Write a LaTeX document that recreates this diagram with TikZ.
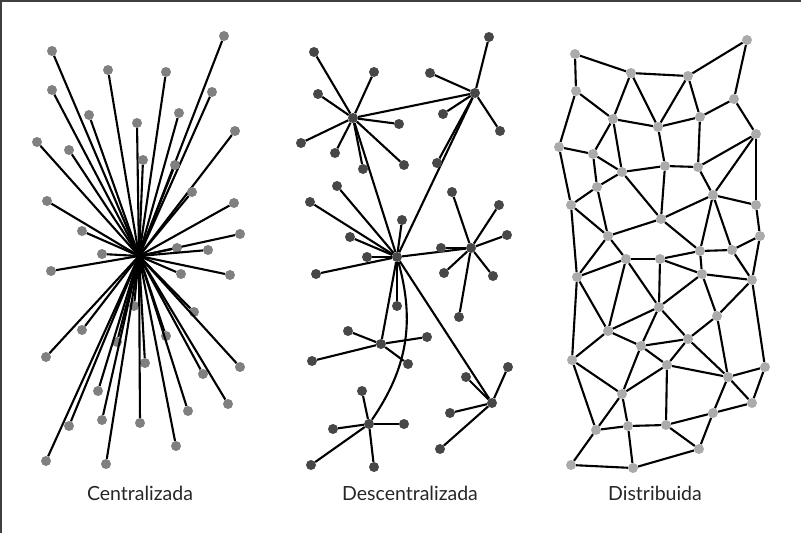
\documentclass[tikz,border=0pt]{standalone}
\usepackage{fontspec}
\setmainfont{Lato}
\begin{document}
\begin{tikzpicture}[x=1pt,y=-1pt,
  edge/.style={line width=2.1pt, black},
  cnode/.style={circle, fill=black!50, minimum size=10pt, inner sep=0pt},
  dnode/.style={circle, fill=black!72, minimum size=10pt, inner sep=0pt},
  snode/.style={circle, fill=black!33, minimum size=10pt, inner sep=0pt},
  lab/.style={font=\fontsize{19.5}{22}\selectfont, text=black!85, inner sep=0pt},
  frameline/.style={line width=2pt, black!75}]
\useasboundingbox (0,0) rectangle (801,533);
\draw[frameline] (1,533) -- (1,1) -- (801,1);

% ---------- centralised network: every node linked to one hub ----------
\coordinate (hub) at (139,256);
\foreach \x/\y [count=\i] in {52/51,224/36,108/70,166/72,52/90,212/92,89/115,179/113,
  137/123,235/131,37/142,69/150,143/160,175/165,192/192,47/201,234/203,82/231,240/234,
  177/248,208/250,102/254,51/271,181/274,230/275,134/306,194/312,82/330,117/342,166/336,
  46/357,145/363,240/367,203/374,98/391,228/404,188/411,69/426,102/420,140/423,176/446,
  46/461,106/464}{
  \node[cnode] (c\i) at (\x,\y) {};
  \draw[edge] (hub) -- (c\i);
}

% ---------- decentralised network: several hubs with their own leaves ----------
\node[dnode] (A) at (353,118) {};
\node[dnode] (B) at (475,93) {};
\node[dnode] (C) at (397,257) {};
\node[dnode] (D) at (471,248) {};
\node[dnode] (E) at (381,344) {};
\node[dnode] (F) at (492,403) {};
\node[dnode] (G) at (369,424) {};
\draw[edge] (A) -- (B);
\draw[edge] (A) -- (C);
\draw[edge] (B) -- (C);
\draw[edge] (C) -- (D);
\draw[edge] (C) -- (E);
\draw[edge] (C) -- (F);
\draw[edge] (C) to[bend left=25] (G);
\foreach \h/\list in {
  A/{314/52,374/72,318/94,399/124,301/143,335/153,363/169,404/165},
  B/{489/37,430/73,443/114,500/131,437/163},
  C/{337/186,310/202,402/220,350/237,367/257,316/274,397/306},
  D/{452/192,499/205,507/235,441/248,444/273,493/276,459/317},
  E/{348/331,427/337,312/361,408/364},
  F/{466/377,508/367,450/413,440/449},
  G/{362/391,404/424,333/429,311/465,374/467}}{
  \foreach \x/\y [count=\j] in \list {
    \node[dnode] (\h\j) at (\x,\y) {};
    \draw[edge] (\h) -- (\h\j);
  }
}

% ---------- distributed network: a mesh ----------
\foreach \n/\x/\y in {n1/575/54,n2/747/40,n3/631/73,n4/688/76,n5/576/91,n6/734/99,
  n7/613/119,n8/700/117,n9/658/127,n10/756/134,n11/559/147,n12/593/154,n13/665/166,
  n14/698/167,n15/622/172,n16/597/187,n17/713/195,n18/571/205,n19/756/205,n20/661/219,
  n21/760/236,n22/608/236,n23/700/251,n24/732/250,n25/626/259,n26/660/259,
  m1/577/277,m2/702/274,m3/752/280,m4/659/307,m5/717/316,m6/608/331,m7/688/339,
  m8/641/346,m9/572/360,m10/667/365,m11/765/367,m12/728/377,m13/622/394,m14/752/403,
  m15/713/413,m16/596/430,m17/628/426,m18/666/425,m19/699/449,m20/571/465,m21/633/468}{
  \node[snode] (\n) at (\x,\y) {};
}
\foreach \a/\b in {n1/n5,n1/n3,n3/n4,n4/n2,n2/n6,n3/n7,n3/n9,n4/n9,n4/n8,n6/n8,n6/n10,
  n5/n7,n5/n11,n7/n9,n9/n8,n7/n12,n7/n15,n11/n12,n12/n15,n12/n16,n11/n18,n9/n13,
  n13/n15,n13/n14,n14/n8,n14/n10,n10/n17,n10/n19,n14/n17,n15/n16,n16/n18,n16/n22,
  n15/n20,n13/n20,n20/n17,n17/n19,n18/n22,n20/n22,n17/n23,n17/n24,n20/n23,n19/n21,
  n21/n24,n23/n24,n22/n25,n25/n26,n26/n23,
  n18/m1,n22/m1,m1/n25,n25/m4,n25/m6,n26/m4,n26/m2,n23/m2,n24/m3,m2/m3,n21/m3,m2/m4,
  m2/m5,m3/m5,m3/m11,m1/m6,m1/m9,m4/m6,m4/m8,m4/m7,m5/m7,m5/m12,m6/m8,m6/m9,m8/m7,
  m8/m10,m7/m10,m7/m12,m8/m13,m10/m13,m10/m12,m10/m18,m9/m13,m9/m16,m12/m11,m12/m14,
  m11/m14,m12/m15,m15/m14,m13/m16,m13/m17,m16/m17,m17/m18,m18/m15,m18/m19,m15/m19,
  m16/m20,m17/m21,m20/m21,m21/m19}{
  \draw[edge] (\a) -- (\b);
}

% ---------- captions ----------
\node[lab] (t1) at (140,493) {Centralizada};
\node[lab] (t2) at (410,493) {Descentralizada};
\node[lab] (t3) at (655,493) {Distribuida};
\end{tikzpicture}
\end{document}
